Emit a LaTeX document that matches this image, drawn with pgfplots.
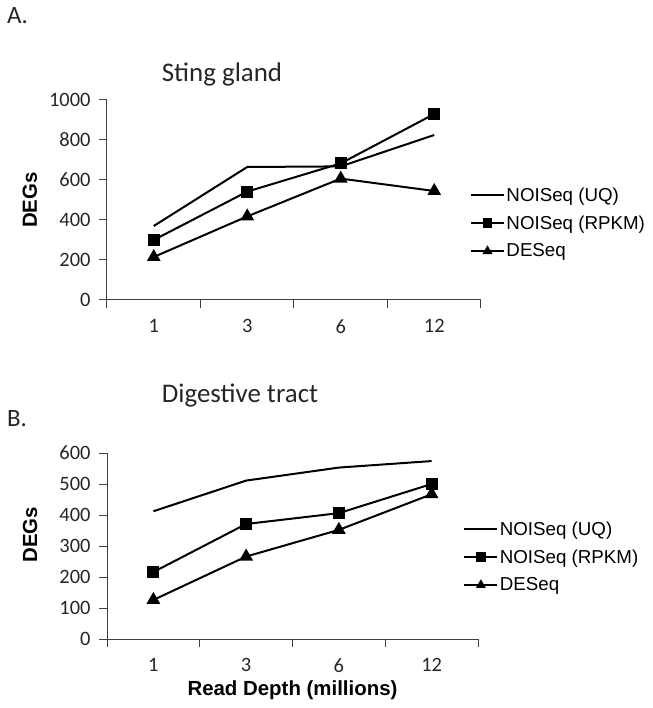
\documentclass[border=0pt]{standalone}
\usepackage{fontspec}
\setmainfont{Liberation Sans}
\newfontfamily\carlito{Carlito}
\usepackage{pgfplots}
\pgfplotsset{compat=1.18}
\pgfplotsset{
  panel/.style={
    scale only axis,
    axis x line*=bottom, axis y line*=left,
    axis line style={black!75, line width=1bp},
    xmin=-0.5, xmax=3.5,
    xtick={-0.5,0.5,1.5,2.5,3.5}, xticklabels={,,,,},
    extra x ticks={0,1,2,3}, extra x tick labels={1,3,6,12},
    extra x tick style={tick style={draw=none}},
    tick align=outside,
    major tick length=8bp,
    tick style={black!75, line width=1bp},
    /pgf/number format/assume math mode=true,
    /pgf/number format/set thousands separator={},
    ticklabel style={font=\carlito\fontsize{20.5}{23}\selectfont, text=black!85},
    yticklabel style={xshift=-5bp},
    xticklabel style={yshift=-8bp},
    every axis y label/.style={rotate=90, anchor=center},
    ylabel style={font=\bfseries\fontsize{20.5}{22}\selectfont},
    legend cell align=left,
    legend image code/.code={\draw[mark repeat=2,mark phase=2,##1,mark size=3.8bp] plot coordinates {(0bp,0bp)(16.5bp,0bp)(33bp,0bp)};},
    legend style={draw=none, fill=none, anchor=north west, inner sep=0pt,
      font=\fontsize{18.8}{21}\selectfont, row sep=10bp,
      nodes={inner sep=1.5bp}},
  },
  uq/.style={black, line width=2bp, mark=none},
  rp/.style={black, line width=2bp, mark=square*, mark size=5bp, mark options={solid}},
  de/.style={black, line width=2bp, mark=triangle*, mark size=6bp, mark options={solid}},
}
\begin{document}
\begin{tikzpicture}
\path[use as bounding box] (0bp,0bp) rectangle (653bp,708bp);

\begin{axis}[panel,
  at={(107bp,408bp)}, anchor=south west,
  width=374bp, height=200bp,
  ymin=0, ymax=1000, ytick={0,200,...,1000},
  ylabel={DEGs},
  ylabel style={at={(rel axis cs:-0.206,0.5)}},
  legend style={at={(rel axis cs:0.97,0.57)}},
]
\addplot[uq] coordinates {(0,370)(1,665)(2,668)(3,825)};
\addlegendentry{NOISeq (UQ)}
\addplot[rp] coordinates {(0,300)(1,542)(2,683)(3,930)};
\addlegendentry{NOISeq (RPKM)}
\addplot[de] coordinates {(0,215)(1,418)(2,607)(3,545)};
\addlegendentry{DESeq}
\end{axis}

\begin{axis}[panel,
  at={(107bp,69bp)}, anchor=south west,
  width=371bp, height=186bp,
  ymin=0, ymax=600, ytick={0,100,...,600},
  ylabel={DEGs},
  ylabel style={at={(rel axis cs:-0.2075,0.56)}},
  xlabel={Read Depth (millions)},
  xlabel style={at={(rel axis cs:0.5,-0.274)}, anchor=center, font=\bfseries\fontsize{20.5}{22}\selectfont},
  legend style={at={(rel axis cs:0.96,0.64)}},
]
\addplot[uq] coordinates {(0,412)(1,511)(2,553)(3,574)};
\addlegendentry{NOISeq (UQ)}
\addplot[rp] coordinates {(0,216)(1,371)(2,406)(3,500)};
\addlegendentry{NOISeq (RPKM)}
\addplot[de] coordinates {(0,126)(1,266)(2,352)(3,467)};
\addlegendentry{DESeq}
\end{axis}

\node[anchor=base west, inner sep=0pt, font=\carlito\fontsize{25}{27}\selectfont, text=black!85] at (7bp,684bp) {A.};
\node[anchor=base west, inner sep=0pt, font=\carlito\fontsize{25}{27}\selectfont, text=black!85] at (7bp,281bp) {B.};
\node[anchor=base, inner sep=0pt, font=\carlito\fontsize{27}{29}\selectfont, text=black!85] at (222bp,626bp) {Sting gland};
\node[anchor=base, inner sep=0pt, font=\carlito\fontsize{27}{29}\selectfont, text=black!85] at (240bp,305bp) {Digestive tract};
\end{tikzpicture}
\end{document}
